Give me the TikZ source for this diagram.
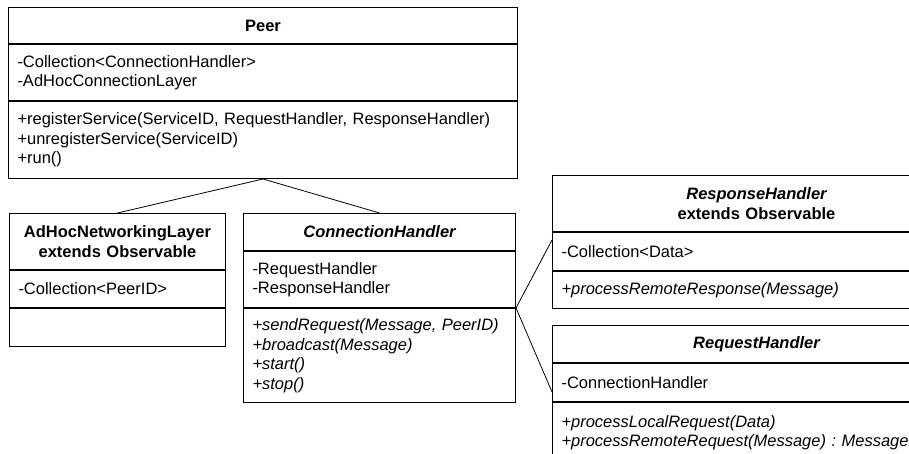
\documentclass[tikz,border=0pt]{standalone}
\usepackage{fontspec}
\setmainfont{Liberation Sans}
\usetikzlibrary{positioning}
\frenchspacing

\tikzset{
  part/.style={draw, line width=1pt, inner xsep=9pt, inner ysep=0pt,
    font=\fontsize{16.5}{19.5}\selectfont},
  head/.style={part, align=center, font=\fontsize{16.5}{19.5}\selectfont\bfseries},
  attr/.style={part, align=left},
  ops/.style={part, align=left},
  opsit/.style={ops, font=\fontsize{16.5}{19.5}\selectfont\itshape},
  link/.style={draw, line width=0.8pt},
}

\begin{document}
\begin{tikzpicture}[x=1pt, y=1pt]
	\useasboundingbox (0,0) rectangle (909,-454);
	\clip (0,0) rectangle (909,-454);

	\node[head, text width=491pt, minimum height=36pt, anchor=north west] (peerHead) at (8,-7) {Peer};
	\node[attr, text width=491pt, minimum height=56pt, below=0pt of peerHead.south west, anchor=north west] (peerAttr)
		{-Collection<ConnectionHandler>\\-AdHocConnectionLayer};
	\node[ops, text width=491pt, minimum height=77pt, below=0pt of peerAttr.south west, anchor=north west] (peerOps)
		{+registerService(ServiceID, RequestHandler, ResponseHandler)\\+unregisterService(ServiceID)\\+run()};

	\node[head, text width=198pt, minimum height=56pt, anchor=north west] (adhocHead) at (9,-213)
		{AdHocNetworkingLayer\\extends Observable};
	\node[attr, text width=198pt, minimum height=37pt, below=0pt of adhocHead.south west, anchor=north west] (adhocAttr)
		{-Collection<PeerID>};
	\node[ops, text width=198pt, minimum height=38pt, below=0pt of adhocAttr.south west, anchor=north west] (adhocOps) {};

	\node[head, text width=254pt, minimum height=37pt, anchor=north west] (connHead) at (243,-213)
		{\itshape ConnectionHandler};
	\node[attr, text width=254pt, minimum height=56pt, below=0pt of connHead.south west, anchor=north west] (connAttr)
		{-RequestHandler\\-ResponseHandler};
	\node[opsit, text width=254pt, minimum height=94pt, below=0pt of connAttr.south west, anchor=north west] (connOps)
		{+sendRequest(Message, PeerID)\\+broadcast(Message)\\+start()\\+stop()};

	\node[head, text width=390pt, minimum height=56pt, anchor=north west] (respHead) at (552,-175)
		{{\itshape ResponseHandler}\\extends Observable};
	\node[attr, text width=390pt, minimum height=38pt, below=0pt of respHead.south west, anchor=north west] (respAttr)
		{-Collection<Data>};
	\node[opsit, text width=390pt, minimum height=37pt, below=0pt of respAttr.south west, anchor=north west] (respOps)
		{+processRemoteResponse(Message)};

	\node[head, text width=390pt, minimum height=37pt, anchor=north west] (reqHead) at (552,-325)
		{\itshape RequestHandler};
	\node[attr, text width=390pt, minimum height=38pt, below=0pt of reqHead.south west, anchor=north west] (reqAttr)
		{-ConnectionHandler};
	\node[opsit, text width=390pt, minimum height=60pt, below=0pt of reqAttr.south west, anchor=north west] (reqOps)
		{+processLocalRequest(Data)\\+processRemoteRequest(Message) : Message};

	\draw[link] (peerOps.south) -- (adhocHead.north);
	\draw[link] (peerOps.south) -- (connHead.north);
	\draw[link] (connAttr.south east) -- ([yshift=-8pt]respAttr.north west);
	\draw[link] (connAttr.south east) -- ([yshift=10pt]reqAttr.south west);
\end{tikzpicture}
\end{document}
